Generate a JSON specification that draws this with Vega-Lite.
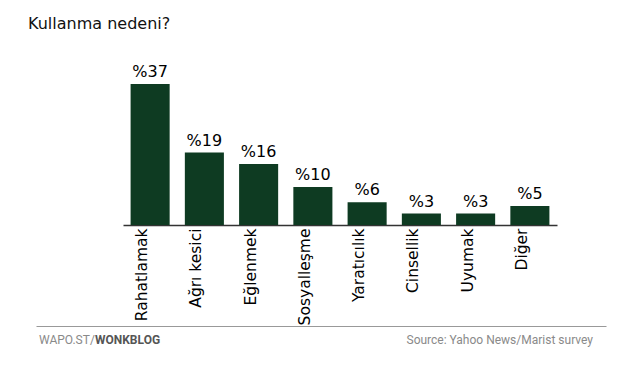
{
  "$schema": "https://vega.github.io/schema/vega-lite/v6.json",
  "background": "white",
  "padding": {"left": 28, "top": 16, "right": 5, "bottom": 5},
  "config": {"view": {"stroke": null}, "concat": {"spacing": 1}},
  "title": {"text": "Kullanma nedeni?", "anchor": "start", "frame": "group", "dx": -8, "font": "DejaVu Sans", "fontSize": 16, "fontWeight": "normal", "color": "#111111", "offset": 32},
  "datasets": {
    "main": [
      {"neden": "Rahatlamak", "oran": 37},
      {"neden": "Ağrı kesici", "oran": 19},
      {"neden": "Eğlenmek", "oran": 16},
      {"neden": "Sosyalleşme", "oran": 10},
      {"neden": "Yaratıcılık", "oran": 6},
      {"neden": "Cinsellik", "oran": 3},
      {"neden": "Uyumak", "oran": 3},
      {"neden": "Diğer", "oran": 5}
    ]
  },
  "vconcat": [
    {
      "width": 570,
      "height": 141,
      "data": {"name": "main"},
      "transform": [{"calculate": "'%' + datum.oran", "as": "etiket"}],
      "encoding": {
        "x": {
          "field": "neden", "type": "nominal", "sort": null,
          "scale": {"range": [87, 521], "paddingInner": 0.28, "paddingOuter": 0.14},
          "axis": {"title": null, "orient": "bottom", "labelAngle": -90, "labelAlign": "right", "labelBaseline": "bottom", "labelFont": "DejaVu Sans", "labelFontSize": 15.5, "labelColor": "#000000", "labelPadding": 3, "ticks": false, "domainColor": "#333333", "domainWidth": 1.5, "labelLimit": 200}
        },
        "y": {
          "field": "oran", "type": "quantitative",
          "scale": {"domain": [0, 37], "nice": false},
          "axis": null
        }
      },
      "layer": [
        {"mark": {"type": "bar", "color": "#0e3b22"}},
        {"mark": {"type": "text", "baseline": "alphabetic", "dy": -7, "font": "DejaVu Sans", "fontSize": 16, "color": "#000000"}, "encoding": {"text": {"field": "etiket"}}}
      ]
    },
    {
      "width": 570,
      "height": 28,
      "data": {"values": [{"k": 1}]},
      "layer": [
        {
          "mark": {"type": "text", "align": "left", "baseline": "middle", "font": "Roboto", "fontSize": 12, "color": "#8a8a8a", "text": "WAPO.ST/", "dx": 3},
          "encoding": {"x": {"datum": 0, "type": "quantitative", "scale": {"domain": [0, 1]}, "axis": {"orient": "top", "title": null, "labels": false, "ticks": false, "grid": false, "domainColor": "#999999", "domainWidth": 1}}}
        },
        {
          "mark": {"type": "text", "align": "left", "baseline": "middle", "font": "Roboto", "fontSize": 12, "fontWeight": "bold", "color": "#555555", "text": "WONKBLOG", "dx": 59},
          "encoding": {"x": {"datum": 0, "type": "quantitative"}}
        },
        {
          "mark": {"type": "text", "align": "right", "baseline": "middle", "font": "Roboto", "fontSize": 12, "color": "#8a8a8a", "text": "Source: Yahoo News/Marist survey", "dx": -13},
          "encoding": {"x": {"datum": 1, "type": "quantitative"}}
        }
      ]
    }
  ]
}
